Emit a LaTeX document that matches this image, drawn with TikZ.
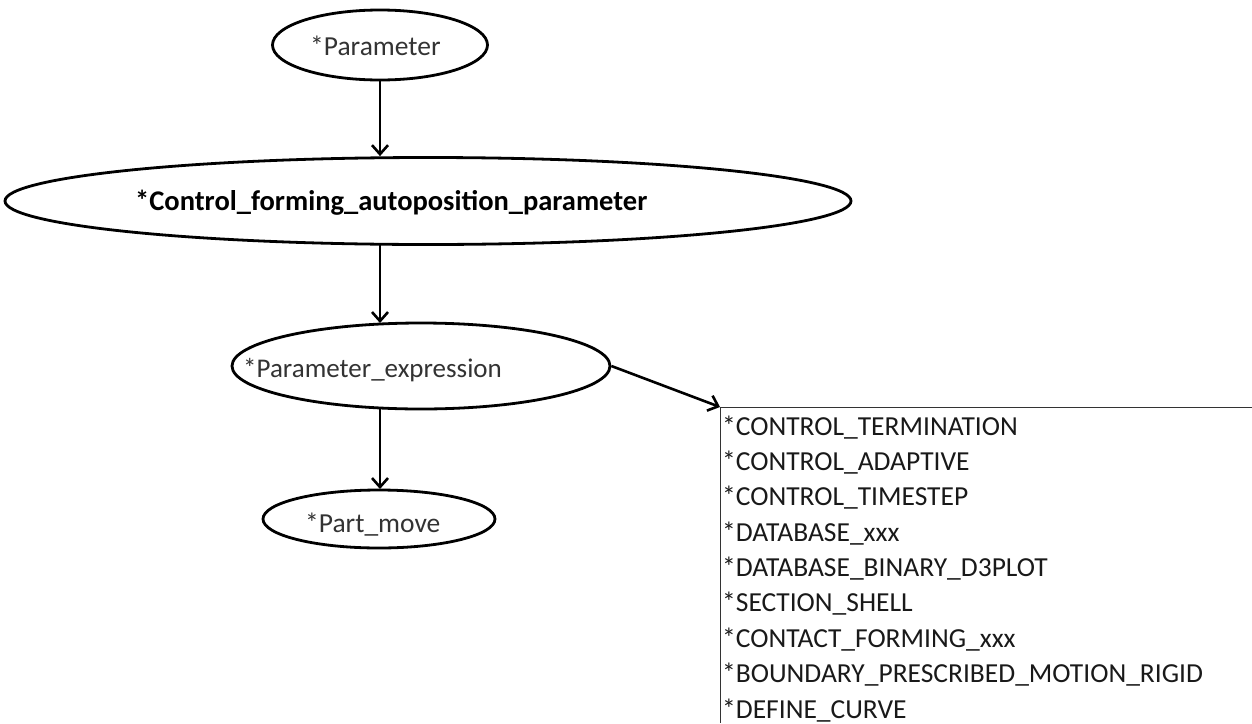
\documentclass[tikz,border=0pt]{standalone}
\usepackage{fontspec}
\setmainfont{Carlito}
\usetikzlibrary{shapes.geometric,arrows.meta}
\begin{document}
\begin{tikzpicture}[x=1pt,y=-1pt,
  oval/.style={draw=black,line width=2.8pt,ellipse,inner sep=0pt,fill=white},
  lbl/.style={anchor=base west,inner sep=0pt,text=black!80,font=\fontsize{27.5}{32}\selectfont},
  flow/.style={line width=2.6pt,-{Straight Barb[length=9pt,width=16pt,line width=2.6pt]}},
  item/.style={anchor=base west,inner sep=0pt,text=black!90,font=\fontsize{27.5}{32}\selectfont}]
\useasboundingbox (0,0) rectangle (1252,723);
% ellipses
\node[oval,minimum width=215pt,minimum height=70pt] (p) at (380,45) {};
\node[lbl] (pt) at (310,55) {*Parameter};
\node[oval,minimum width=846pt,minimum height=87pt] (c) at (428,201) {};
\node[lbl,font=\bfseries\fontsize{28.5}{32}\selectfont,text=black] (ct) at (135,210) {*Control\_forming\_autoposition\_parameter};
\node[oval,minimum width=378pt,minimum height=86pt] (e) at (421,366) {};
\node[lbl,font=\fontsize{27}{32}\selectfont] (et) at (243,377) {*Parameter\_expression};
\node[oval,minimum width=232pt,minimum height=58pt] (m) at (379,519) {};
\node[lbl] (mt) at (305,532) {*Part\_move};
% arrows
\draw[flow] (p.south) -- (p.south |- c.north);
\draw[flow] (380,245) -- (380,323);
\draw[flow] (380,409) -- (380,489);
% list box
\coordinate (bx) at (720,407);
\draw[line width=1pt,black!80] (1252,407) -- (bx) -- (720,723);
\draw[flow] (e.east) -- (bx);
\node[item] (l1) at (722,435) {*CONTROL\_TERMINATION};
\node[item] (l2) at (722,470.4) {*CONTROL\_ADAPTIVE};
\node[item] (l3) at (722,505.8) {*CONTROL\_TIMESTEP};
\node[item] (l4) at (722,541.1) {*DATABASE\_xxx};
\node[item] (l5) at (722,576.5) {*DATABASE\_BINARY\_D3PLOT};
\node[item] (l6) at (722,611.9) {*SECTION\_SHELL};
\node[item] (l7) at (722,647.3) {*CONTACT\_FORMING\_xxx};
\node[item] (l8) at (722,682.6) {*BOUNDARY\_PRESCRIBED\_MOTION\_RIGID};
\node[item] (l9) at (722,718) {*DEFINE\_CURVE};
\end{tikzpicture}
\end{document}
